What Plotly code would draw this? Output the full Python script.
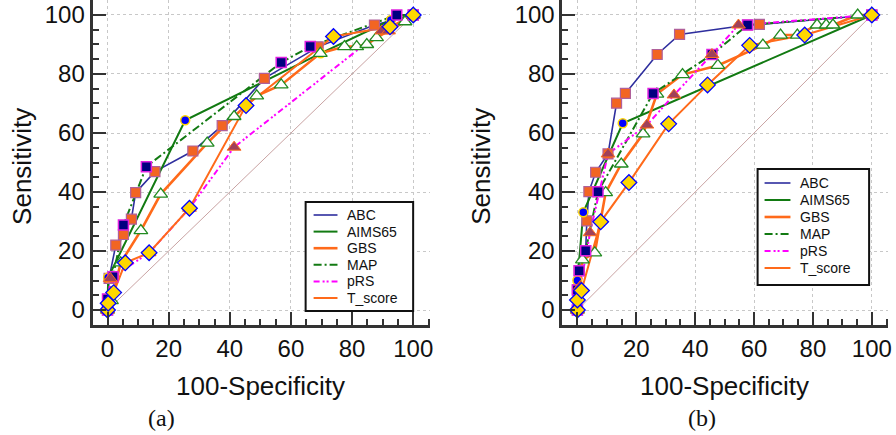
import plotly.graph_objects as go

# ---- panel (a) ----
a_abc_x = [0, 0.5, 2.7, 5.2, 7.8, 9.2, 15.5, 27.9, 37.5, 51.3, 68.9, 87.3, 100]
a_abc_y = [0, 10.7, 22, 25.6, 30.8, 39.8, 46.9, 53.9, 62.5, 78.5, 89.2, 96.6, 100]
a_aims_x = [0, 0.2, 25.4, 69.7, 92.7, 100]
a_aims_y = [0, 11, 64.3, 87, 98.3, 100]
a_gbs_x = [0, 1.3, 4.3, 10.9, 17.4, 32.6, 41.4, 48.8, 56.8, 69.6, 77.5, 81.5, 84.8, 88, 97.3, 100]
a_gbs_y = [0, 3.2, 16, 26.9, 39.3, 56.6, 65.6, 72.6, 76.3, 87, 89.3, 89.3, 90, 92.3, 97.7, 100]
a_map_x = [0, 0, 1.8, 5.2, 12.7, 56.8, 66.3, 94.6, 100]
a_map_y = [0, 3.7, 11.3, 28.8, 48.6, 83.9, 89.3, 100, 100]
a_prs_x = [0, 0.9, 13.6, 26.8, 41.4, 89.7, 91.9, 100]
a_prs_y = [0, 10.7, 19.4, 34.5, 55.2, 94.6, 94.6, 100]
a_tsc_x = [0, 0.2, 2, 5.8, 13.6, 26.8, 45.3, 73.9, 92.4, 100]
a_tsc_y = [0, 2.3, 5.9, 16, 19.4, 34.5, 69.3, 92.7, 96, 100]

# ---- panel (b) ----
b_abc_x = [0, 0, 0.6, 2.8, 3.2, 3.9, 6.2, 10.4, 13.3, 16.3, 27.1, 34.7, 57.8, 61.8, 100]
b_abc_y = [0, 6.8, 13.3, 20.1, 30.2, 40.1, 46.7, 52.9, 70.1, 73.4, 86.6, 93.4, 96.6, 96.8, 100]
b_aims_x = [0, 0, 2, 15.4, 100]
b_aims_y = [0, 10, 33.1, 63.3, 100]
b_gbs_x = [0, 1.7, 5.9, 9.6, 14.9, 22.3, 27, 35.7, 47.7, 63, 69, 74.7, 81.4, 84.5, 86.8, 95.2, 100]
b_gbs_y = [0, 17, 19.4, 39.8, 49.5, 59.7, 73.2, 79.8, 82.9, 89.8, 93.2, 93.2, 96.6, 96.6, 96.6, 100, 100]
b_map_x = [0, 0, 0.6, 2.8, 7, 25.7, 45.7, 57.8, 100]
b_map_y = [0, 6.8, 13.3, 20.1, 40.1, 73.4, 86.6, 96.6, 100]
b_prs_x = [0, 1, 4.3, 10.4, 23.6, 32.8, 45.7, 54.7, 100]
b_prs_y = [0, 8, 26.2, 52.9, 62.7, 72.9, 86.6, 96.6, 100]
b_tsc_x = [0, 0, 1.4, 7.9, 17.5, 31, 44.2, 58.5, 77.2, 100]
b_tsc_y = [0, 3.4, 6.6, 29.9, 43.2, 63.1, 76.3, 89.7, 93.2, 100]

names = ["ABC", "AIMS65", "GBS", "MAP", "pRS", "T_score"]
tick_vals = [0, 20, 40, 60, 80, 100]

NAVY = "#2e2e9e"
GREEN = "#127a12"
ORANGE = "#ff6a1a"
MAGENTA = "#ff00ff"

line_styles = {
    "ABC": dict(color=NAVY, width=1.6),
    "AIMS65": dict(color=GREEN, width=2),
    "GBS": dict(color=ORANGE, width=2.6),
    "MAP": dict(color=GREEN, width=2, dash="8px,3px,2px,3px"),
    "pRS": dict(color=MAGENTA, width=2, dash="6px,3px,2px,2px,2px,3px"),
    "T_score": dict(color=ORANGE, width=2),
}
marker_styles = {
    "ABC": dict(symbol="square", size=10, color="#f26522", line=dict(color="#b0609a", width=1.2)),
    "AIMS65": dict(symbol="circle", size=9, color="#0000ff", line=dict(color="#ffd700", width=1.5)),
    "GBS": dict(symbol="triangle-up", size=12, color="white", line=dict(color="#228b22", width=1.3)),
    "MAP": dict(symbol="square", size=10, color="#000080", line=dict(color="#e020e0", width=1.5)),
    "pRS": dict(symbol="triangle-up", size=12, color="#a0405a", line=dict(color="#ff6a1a", width=1)),
    "T_score": dict(symbol="diamond", size=12, color="#ffd700", line=dict(color="#0000ff", width=1.3)),
}

panels = [
    ("x", "y", {
        "ABC": (a_abc_x, a_abc_y), "AIMS65": (a_aims_x, a_aims_y), "GBS": (a_gbs_x, a_gbs_y),
        "MAP": (a_map_x, a_map_y), "pRS": (a_prs_x, a_prs_y), "T_score": (a_tsc_x, a_tsc_y)}),
    ("x2", "y2", {
        "ABC": (b_abc_x, b_abc_y), "AIMS65": (b_aims_x, b_aims_y), "GBS": (b_gbs_x, b_gbs_y),
        "MAP": (b_map_x, b_map_y), "pRS": (b_prs_x, b_prs_y), "T_score": (b_tsc_x, b_tsc_y)}),
]

W, H = 896, 435

fig = go.Figure()

for xa, ya, series in panels:
    # diagonal reference line
    fig.add_trace(go.Scatter(x=[0, 100], y=[0, 100], mode="lines", xaxis=xa, yaxis=ya,
                             line=dict(color="#c9a3a3", width=1), showlegend=False, hoverinfo="skip"))
    for n in names:
        sx, sy = series[n]
        fig.add_trace(go.Scatter(x=sx, y=sy, mode="lines", name=n, xaxis=xa, yaxis=ya,
                                 line=line_styles[n], showlegend=False))
    for n in names:
        sx, sy = series[n]
        fig.add_trace(go.Scatter(x=sx, y=sy, mode="markers", name=n, xaxis=xa, yaxis=ya,
                                 marker=marker_styles[n], showlegend=False, cliponaxis=False))

# legend boxes (drawn by hand so the row spacing matches the original)
leg_font = dict(family="Liberation Sans, Arial", size=14, color="#111111")
legend_boxes = [
    # box left, top, right, bottom, first row y, row step, sample x0, x1, text x
    (307, 202, 415, 311, 215, 16.6, 315, 339, 347),
    (761, 169, 873, 285, 183, 17.0, 768, 794, 802),
]
for bx0, by0, bx1, by1, row0, step, lx0, lx1, tx in legend_boxes:
    fig.add_shape(type="rect", xref="paper", yref="paper",
                  x0=bx0 / W, x1=bx1 / W, y0=1 - by0 / H, y1=1 - by1 / H,
                  line=dict(color="#111111", width=2), fillcolor="white", layer="above")
    for i, n in enumerate(names):
        ry = row0 + i * step
        st = line_styles[n]
        fig.add_shape(type="line", xref="paper", yref="paper",
                      x0=lx0 / W, x1=lx1 / W, y0=1 - ry / H, y1=1 - ry / H, layer="above",
                      line=dict(color=st["color"], width=st["width"], dash=st.get("dash", "solid")))
        fig.add_annotation(x=tx / W, y=1 - ry / H, xref="paper", yref="paper", text=n,
                           xanchor="left", yanchor="middle", showarrow=False, font=leg_font)

axis_common = dict(
    showline=True, linecolor="#333333", linewidth=3,
    ticks="inside", ticklen=13, tickwidth=2, tickcolor="#333333",
    tickmode="array", tickvals=tick_vals,
    showgrid=True, gridcolor="#c8c8c8", griddash="dot", gridwidth=1,
    zeroline=False, mirror=False,
    tickfont=dict(family="Liberation Sans, Arial", size=24, color="#111111"),
    minor=dict(dtick=5, tick0=0, ticks="inside", ticklen=6, tickwidth=1.5, tickcolor="#333333", showgrid=False),
    fixedrange=True, ticklabeloverflow="allow",
)

ydom = [(H - 325) / H, 1.0]
fig.update_layout(
    width=W, height=H,
    margin=dict(l=0, r=0, t=0, b=0),
    plot_bgcolor="white", paper_bgcolor="white",
    showlegend=False,
    xaxis=dict(axis_common, domain=[93 / W, 432 / W], range=[-4.89, 105.5], anchor="y"),
    yaxis=dict(axis_common, domain=ydom, range=[-5.08, 105.08], anchor="x"),
    xaxis2=dict(axis_common, domain=[565 / W, 892 / W], range=[-5.07, 105.5], anchor="y2"),
    yaxis2=dict(axis_common, domain=ydom, range=[-5.08, 105.08], anchor="x2"),
)

title_font = dict(family="Liberation Sans, Arial", size=26, color="#111111")
cap_font = dict(family="Liberation Serif, Times New Roman", size=24, color="#111111")
for cx in (22, 483):
    fig.add_annotation(x=cx / W, y=1 - 166 / H, xref="paper", yref="paper", text="Sensitivity",
                       textangle=-90, xanchor="center", yanchor="middle", showarrow=False, font=title_font)
for cx in (262, 728):
    fig.add_annotation(x=cx / W, y=1 - 386 / H, xref="paper", yref="paper", text="100-Specificity",
                       xanchor="center", yanchor="middle", showarrow=False, font=title_font)
for cx, cap in ((162, "(a)"), (705, "(b)")):
    fig.add_annotation(x=cx / W, y=1 - 418 / H, xref="paper", yref="paper", text=cap,
                       xanchor="center", yanchor="middle", showarrow=False, font=cap_font)

fig.write_html("out.html", config={"displayModeBar": False},
               post_script="document.body.style.margin='0';")
